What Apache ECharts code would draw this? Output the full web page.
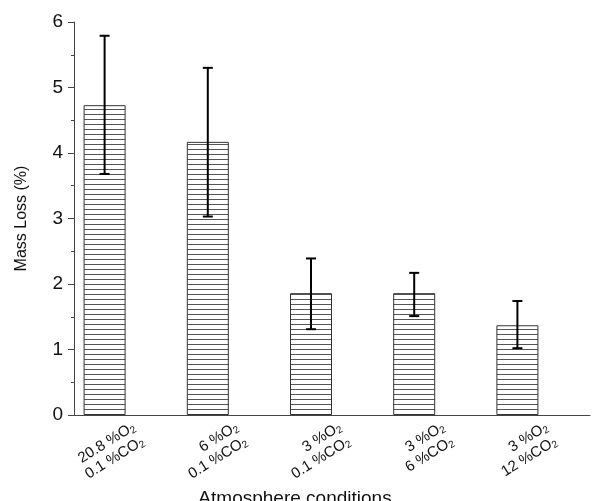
<!DOCTYPE html>
<html style="height: 100%">
<head>
<meta charset="utf-8">
<script src="https://cdn.jsdelivr.net/npm/echarts@6/dist/echarts.min.js"></script>
</head>
<body style="height: 100%; margin: 0; background: #fff">
<div id="container" style="width: 597px; height: 501px"></div>
<script type="text/javascript">
// atmosphere conditions (O2 / CO2 percentages)
var o2Levels = ['20.8', '6', '3', '3', '3'];
var co2Levels = ['0.1', '0.1', '0.1', '6', '12'];
// mass loss (%) and error bar ends
var massLoss = [4.73, 4.17, 1.86, 1.86, 1.37];
var errLow = [3.68, 3.03, 1.31, 1.51, 1.02];
var errHigh = [5.79, 5.30, 2.39, 2.17, 1.74];
var yTicks = [0, 1, 2, 3, 4, 5, 6];

var categories = o2Levels.map(function (o, i) { return o + '|' + co2Levels[i]; });

// horizontal hatch fill
var hatch = document.createElement('canvas');
hatch.width = 8;
hatch.height = 5;
var hctx = hatch.getContext('2d');
hctx.fillStyle = '#fff';
hctx.fillRect(0, 0, 8, 5);
hctx.fillStyle = '#555';
hctx.fillRect(0, 4, 8, 1);

var BAR_W = 42;

var dom = document.getElementById('container');
var myChart = echarts.init(dom);

var option = {
    backgroundColor: '#fff',
    animation: false,
    textStyle: { fontFamily: 'Liberation Sans, Arial, sans-serif' },
    grid: { left: 74, right: 7, top: 22, bottom: 86, outerBoundsMode: 'none' },
    xAxis: [{
        type: 'category',
        data: categories,
        name: 'Atmosphere conditions',
        nameLocation: 'middle',
        nameGap: 48,
        // negative top padding pulls the name up, right padding shifts it left
        nameTextStyle: { fontSize: 19, color: '#111', padding: [-10, 74, 0, 0] },
        axisLine: { lineStyle: { color: '#444', width: 1 } },
        axisTick: { length: 4, lineStyle: { color: '#444' } },
        axisLabel: {
            rotate: 32,
            margin: 26,
            fontSize: 15,
            lineHeight: 17,
            color: '#111',
            padding: [0, -15, 0, 0],
            formatter: function (v) {
                var p = v.split('|');
                return p[0] + ' %O{s|2}\n' + p[1] + ' %CO{s|2}';
            },
            rich: {
                s: { fontSize: 10, verticalAlign: 'bottom', color: '#111' }
            }
        }
    }, {
        type: 'category',
        data: categories,
        position: 'bottom',
        axisLine: { show: false },
        axisTick: { alignWithLabel: true, length: 6, lineStyle: { color: '#444' } },
        axisLabel: { show: false }
    }],
    yAxis: {
        type: 'value',
        min: yTicks[0],
        max: yTicks[yTicks.length - 1],
        interval: 1,
        name: 'Mass Loss (%)',
        nameLocation: 'middle',
        nameGap: 44,
        nameTextStyle: { fontSize: 16, color: '#111' },
        axisLine: { show: true, lineStyle: { color: '#444' } },
        axisTick: { show: true, length: 6, lineStyle: { color: '#444' } },
        minorTick: { show: true, splitNumber: 2, length: 3, lineStyle: { color: '#444' } },
        splitLine: { show: false },
        axisLabel: { fontSize: 19, color: '#111', margin: 11 }
    },
    series: [{
        type: 'bar',
        data: massLoss,
        barWidth: BAR_W,
        barGap: '0%',
        itemStyle: {
            color: { image: hatch, repeat: 'repeat' },
            borderColor: '#333',
            borderWidth: 1
        }
    }, {
        type: 'bar',
        data: massLoss.map(function () { return 0; }),
        barWidth: BAR_W,
        itemStyle: { color: 'rgba(0,0,0,0)', borderWidth: 0 }
    }, {
        type: 'custom',
        data: massLoss.map(function (v, i) { return [i, errLow[i], errHigh[i]]; }),
        z: 5,
        renderItem: function (params, api) {
            var lo = api.coord([api.value(0), api.value(1)]);
            var hi = api.coord([api.value(0), api.value(2)]);
            var x = lo[0] - BAR_W / 2;
            var cap = 5;
            var st = { stroke: '#000', lineWidth: 2 };
            return {
                type: 'group',
                children: [
                    { type: 'line', shape: { x1: x, y1: lo[1], x2: x, y2: hi[1] }, style: st },
                    { type: 'line', shape: { x1: x - cap, y1: lo[1], x2: x + cap, y2: lo[1] }, style: st },
                    { type: 'line', shape: { x1: x - cap, y1: hi[1], x2: x + cap, y2: hi[1] }, style: st }
                ]
            };
        }
    }]
};
myChart.setOption(option);
</script>
</body>
</html>
